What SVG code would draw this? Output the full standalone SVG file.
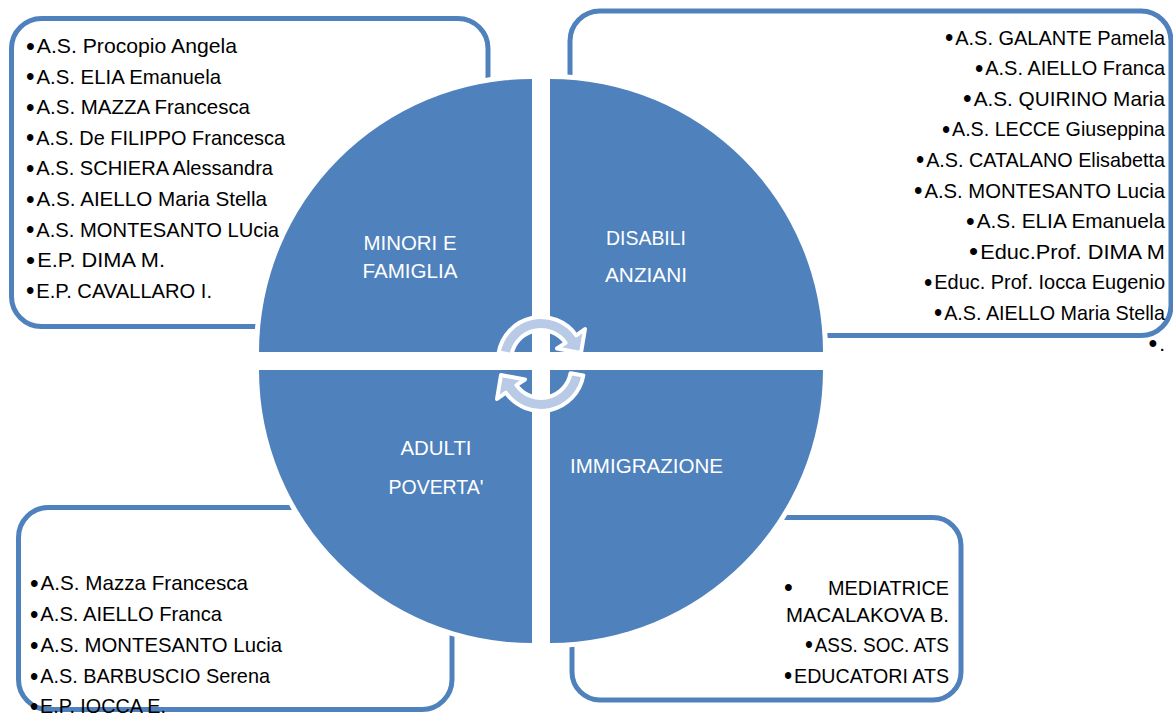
<svg xmlns="http://www.w3.org/2000/svg" width="1173" height="713" viewBox="0 0 1173 713">
<style>
.box{fill:#fff;stroke:#4F81BD;stroke-width:5}
.t{font-family:"Liberation Sans",Arial,sans-serif;font-size:21px;fill:#000}
.b{font-size:25px}
.r{text-anchor:end}
.q{fill:#4F81BD;stroke:#fff;stroke-width:10;paint-order:stroke}
.lbl{font-family:"Liberation Sans",Arial,sans-serif;font-size:21px;fill:#fff}
.c{text-anchor:middle}
.arr{fill:#B9CAE6;stroke:#fff;stroke-width:4;stroke-linejoin:round}
</style>
<rect width="1173" height="713" fill="#fff"/>
<g id="box-minori">
<rect class="box" x="11.5" y="18.5" width="476.5" height="308" rx="30"/>
<text class="t" x="26" y="53" textLength="211" lengthAdjust="spacingAndGlyphs"><tspan class="b" dy="1.5">•</tspan><tspan dx="2" dy="-1.5">A.S. Procopio Angela</tspan></text>
<text class="t" x="26" y="83.6" textLength="195" lengthAdjust="spacingAndGlyphs"><tspan class="b" dy="1.5">•</tspan><tspan dx="2" dy="-1.5">A.S. ELIA Emanuela</tspan></text>
<text class="t" x="26" y="114.2" textLength="224" lengthAdjust="spacingAndGlyphs"><tspan class="b" dy="1.5">•</tspan><tspan dx="2" dy="-1.5">A.S. MAZZA Francesca</tspan></text>
<text class="t" x="26" y="144.8" textLength="259" lengthAdjust="spacingAndGlyphs"><tspan class="b" dy="1.5">•</tspan><tspan dx="2" dy="-1.5">A.S. De FILIPPO Francesca</tspan></text>
<text class="t" x="26" y="175.4" textLength="247" lengthAdjust="spacingAndGlyphs"><tspan class="b" dy="1.5">•</tspan><tspan dx="2" dy="-1.5">A.S. SCHIERA Alessandra</tspan></text>
<text class="t" x="26" y="206" textLength="241" lengthAdjust="spacingAndGlyphs"><tspan class="b" dy="1.5">•</tspan><tspan dx="2" dy="-1.5">A.S. AIELLO Maria Stella</tspan></text>
<text class="t" x="26" y="236.6" textLength="253" lengthAdjust="spacingAndGlyphs"><tspan class="b" dy="1.5">•</tspan><tspan dx="2" dy="-1.5">A.S. MONTESANTO LUcia</tspan></text>
<text class="t" x="26" y="267.2" textLength="139" lengthAdjust="spacingAndGlyphs"><tspan class="b" dy="1.5">•</tspan><tspan dx="2" dy="-1.5">E.P. DIMA M.</tspan></text>
<text class="t" x="26" y="297.8" textLength="186" lengthAdjust="spacingAndGlyphs"><tspan class="b" dy="1.5">•</tspan><tspan dx="2" dy="-1.5">E.P. CAVALLARO I.</tspan></text>
</g>
<g id="box-disabili">
<rect class="box" x="570" y="11" width="601" height="324.5" rx="30"/>
<text class="t r" x="1165" y="44.5" textLength="220" lengthAdjust="spacingAndGlyphs"><tspan class="b" dy="1.5">•</tspan><tspan dx="2" dy="-1.5">A.S. GALANTE Pamela</tspan></text>
<text class="t r" x="1165" y="75.1" textLength="190" lengthAdjust="spacingAndGlyphs"><tspan class="b" dy="1.5">•</tspan><tspan dx="2" dy="-1.5">A.S. AIELLO Franca</tspan></text>
<text class="t r" x="1165" y="105.7" textLength="202" lengthAdjust="spacingAndGlyphs"><tspan class="b" dy="1.5">•</tspan><tspan dx="2" dy="-1.5">A.S. QUIRINO Maria</tspan></text>
<text class="t r" x="1165" y="136.3" textLength="223" lengthAdjust="spacingAndGlyphs"><tspan class="b" dy="1.5">•</tspan><tspan dx="2" dy="-1.5">A.S. LECCE Giuseppina</tspan></text>
<text class="t r" x="1165" y="166.9" textLength="249" lengthAdjust="spacingAndGlyphs"><tspan class="b" dy="1.5">•</tspan><tspan dx="2" dy="-1.5">A.S. CATALANO Elisabetta</tspan></text>
<text class="t r" x="1165" y="197.5" textLength="251" lengthAdjust="spacingAndGlyphs"><tspan class="b" dy="1.5">•</tspan><tspan dx="2" dy="-1.5">A.S. MONTESANTO Lucia</tspan></text>
<text class="t r" x="1165" y="228.1" textLength="199" lengthAdjust="spacingAndGlyphs"><tspan class="b" dy="1.5">•</tspan><tspan dx="2" dy="-1.5">A.S. ELIA Emanuela</tspan></text>
<text class="t r" x="1165" y="258.7" textLength="196" lengthAdjust="spacingAndGlyphs"><tspan class="b" dy="1.5">•</tspan><tspan dx="2" dy="-1.5">Educ.Prof. DIMA M</tspan></text>
<text class="t r" x="1165" y="289.3" textLength="241" lengthAdjust="spacingAndGlyphs"><tspan class="b" dy="1.5">•</tspan><tspan dx="2" dy="-1.5">Educ. Prof. Iocca Eugenio</tspan></text>
<text class="t r" x="1165" y="319.9" textLength="231" lengthAdjust="spacingAndGlyphs"><tspan class="b" dy="1.5">•</tspan><tspan dx="2" dy="-1.5">A.S. AIELLO Maria Stella</tspan></text>
<text class="t r" x="1165" y="350.5"><tspan class="b" dy="1.5">•</tspan><tspan dx="2" dy="-1.5">.</tspan></text>
</g>
<g id="box-adulti">
<rect class="box" x="18.5" y="507.5" width="433.5" height="202" rx="30"/>
<text class="t" x="30" y="590" textLength="218" lengthAdjust="spacingAndGlyphs"><tspan class="b" dy="1.5">•</tspan><tspan dx="2" dy="-1.5">A.S. Mazza Francesca</tspan></text>
<text class="t" x="30" y="621" textLength="192" lengthAdjust="spacingAndGlyphs"><tspan class="b" dy="1.5">•</tspan><tspan dx="2" dy="-1.5">A.S. AIELLO Franca</tspan></text>
<text class="t" x="30" y="652" textLength="252" lengthAdjust="spacingAndGlyphs"><tspan class="b" dy="1.5">•</tspan><tspan dx="2" dy="-1.5">A.S. MONTESANTO Lucia</tspan></text>
<text class="t" x="30" y="683" textLength="240" lengthAdjust="spacingAndGlyphs"><tspan class="b" dy="1.5">•</tspan><tspan dx="2" dy="-1.5">A.S. BARBUSCIO Serena</tspan></text>
<text class="t" x="30" y="713" textLength="136" lengthAdjust="spacingAndGlyphs"><tspan class="b" dy="1.5">•</tspan><tspan dx="2" dy="-1.5">E.P. IOCCA E.</tspan></text>
</g>
<g id="box-immigrazione">
<rect class="box" x="572" y="517.5" width="389" height="182.5" rx="28"/>
<text class="t b" x="784" y="596">•</text>
<text class="t r" x="949" y="594.5" textLength="121" lengthAdjust="spacingAndGlyphs">MEDIATRICE</text>
<text class="t r" x="949" y="621.5" textLength="163" lengthAdjust="spacingAndGlyphs">MACALAKOVA B.</text>
<text class="t r" x="949" y="651.5" textLength="144" lengthAdjust="spacingAndGlyphs"><tspan class="b" dy="1.5">•</tspan><tspan dx="2" dy="-1.5">ASS. SOC. ATS</tspan></text>
<text class="t r" x="949" y="682.5" textLength="165" lengthAdjust="spacingAndGlyphs"><tspan class="b" dy="1.5">•</tspan><tspan dx="2" dy="-1.5">EDUCATORI ATS</tspan></text>
</g>
<g id="quadrant-minori">
<path class="q" d="M532,352 L259,352 A273,273 0 0 1 532,79 Z"/>
<text class="lbl c" x="410" y="249.5" textLength="93" lengthAdjust="spacingAndGlyphs">MINORI E</text>
<text class="lbl c" x="410" y="277.5" textLength="95" lengthAdjust="spacingAndGlyphs">FAMIGLIA</text>
</g>
<g id="quadrant-disabili">
<path class="q" d="M550,352 L550,79 A273,273 0 0 1 823,352 Z"/>
<text class="lbl c" x="646" y="245" textLength="80" lengthAdjust="spacingAndGlyphs">DISABILI</text>
<text class="lbl c" x="646" y="281.5" textLength="82" lengthAdjust="spacingAndGlyphs">ANZIANI</text>
</g>
<g id="quadrant-immigrazione">
<path class="q" d="M550,370 L823,370 A273,273 0 0 1 550,643 Z"/>
<text class="lbl" x="570" y="472.5" textLength="153" lengthAdjust="spacingAndGlyphs">IMMIGRAZIONE</text>
</g>
<g id="quadrant-adulti">
<path class="q" d="M532,370 L532,643 A273,273 0 0 1 259,370 Z"/>
<text class="lbl c" x="436" y="454.5" textLength="71" lengthAdjust="spacingAndGlyphs">ADULTI</text>
<text class="lbl c" x="436" y="493.5" textLength="95" lengthAdjust="spacingAndGlyphs">POVERTA'</text>
</g>
<g id="connectors">
<path class="arr" d="M498.65,352.53 A43,43 0 0 1 576.22,335.34 L585,329 L581,353 L557,348.5 L565.57,342.79 A30,30 0 0 0 511.46,354.79 Z"/>
<path class="arr" transform="rotate(180 541 364)" d="M498.65,352.53 A43,43 0 0 1 576.22,335.34 L585,329 L581,353 L557,348.5 L565.57,342.79 A30,30 0 0 0 511.46,354.79 Z"/>
</g>
</svg>
